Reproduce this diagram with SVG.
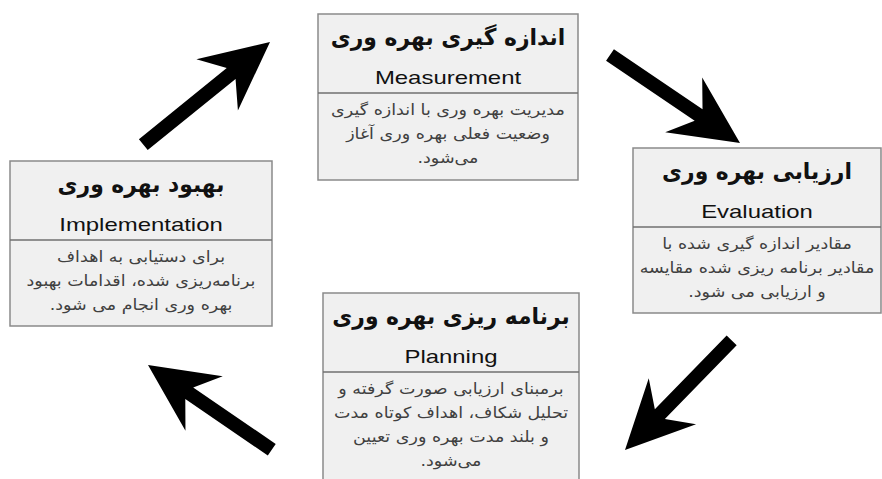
<svg xmlns="http://www.w3.org/2000/svg" width="882" height="479" viewBox="0 0 882 479">
<style>
.box{fill:#f0f0f0;stroke:#8a8a8a;stroke-width:1.5}
.div{stroke:#707070;stroke-width:1.3}
.ti{font-family:"DejaVu Sans",sans-serif;font-weight:bold;font-size:23px;fill:#111;text-anchor:middle}
.en{font-family:"Liberation Sans",Arial,sans-serif;font-size:18px;fill:#111;text-anchor:middle}
.bd{font-family:"DejaVu Sans",sans-serif;font-size:15.5px;fill:#404040;text-anchor:middle}
.arr{fill:#000}
</style>
<rect width="882" height="479" fill="#fff"/>
<g id="connectors">
<path class="arr" transform="translate(270,42) rotate(-39)" d="M0,0 L-68,-33 L-50,-7 L-163,-7 L-163,7 L-50,7 L-68,33 Z"/>
<path class="arr" transform="translate(740,143) rotate(34.1)" d="M0,0 L-68,-33 L-50,-7 L-157,-7 L-157,7 L-50,7 L-68,33 Z"/>
<path class="arr" transform="translate(625,450) rotate(134.2)" d="M0,0 L-68,-33 L-50,-7 L-153,-7 L-153,7 L-50,7 L-68,33 Z"/>
<path class="arr" transform="translate(148,365) rotate(214.4)" d="M0,0 L-68,-33 L-50,-7 L-150,-7 L-150,7 L-50,7 L-68,33 Z"/>
</g>
<g id="measurement">
<rect class="box" x="318" y="14" width="260" height="166"/>
<line class="div" x1="318" y1="93" x2="578" y2="93"/>
<text class="ti" direction="rtl" transform="translate(448,45) scale(0.95,1)">اندازه گیری بهره وری</text>
<text class="en" transform="translate(448,84) scale(1.33,1)">Measurement</text>
<g transform="translate(448,0) scale(1.13,1)">
<text class="bd" direction="rtl" x="0" y="115">مدیریت بهره وری با اندازه گیری</text>
<text class="bd" direction="rtl" x="0" y="139">وضعیت فعلی بهره وری آغاز</text>
<text class="bd" direction="rtl" x="0" y="163">می‌شود.</text>
</g>
</g>
<g id="evaluation">
<rect class="box" x="633" y="148" width="248" height="165"/>
<line class="div" x1="633" y1="227" x2="881" y2="227"/>
<text class="ti" direction="rtl" transform="translate(757,179) scale(0.95,1)">ارزیابی بهره وری</text>
<text class="en" transform="translate(757,218) scale(1.33,1)">Evaluation</text>
<g transform="translate(757,0) scale(1.13,1)">
<text class="bd" direction="rtl" x="0" y="249">مقادیر اندازه گیری شده با</text>
<text class="bd" direction="rtl" x="0" y="273">مقادیر برنامه ریزی شده مقایسه</text>
<text class="bd" direction="rtl" x="0" y="297">و ارزیابی می شود.</text>
</g>
</g>
<g id="implementation">
<rect class="box" x="10" y="161" width="262" height="165"/>
<line class="div" x1="10" y1="240" x2="272" y2="240"/>
<text class="ti" direction="rtl" transform="translate(141,192) scale(0.95,1)">بهبود بهره وری</text>
<text class="en" transform="translate(141,231) scale(1.33,1)">Implementation</text>
<g transform="translate(141,0) scale(1.13,1)">
<text class="bd" direction="rtl" x="0" y="262">برای دستیابی به اهداف</text>
<text class="bd" direction="rtl" x="0" y="286">برنامه‌ریزی شده، اقدامات بهبود</text>
<text class="bd" direction="rtl" x="0" y="310">بهره وری انجام می شود.</text>
</g>
</g>
<g id="planning">
<rect class="box" x="323" y="293" width="256" height="200"/>
<line class="div" x1="323" y1="372" x2="579" y2="372"/>
<text class="ti" direction="rtl" transform="translate(451,324) scale(0.95,1)">برنامه ریزی بهره وری</text>
<text class="en" transform="translate(451,363) scale(1.33,1)">Planning</text>
<g transform="translate(451,0) scale(1.13,1)">
<text class="bd" direction="rtl" x="0" y="394">برمبنای ارزیابی صورت گرفته و</text>
<text class="bd" direction="rtl" x="0" y="418">تحلیل شکاف، اهداف کوتاه مدت</text>
<text class="bd" direction="rtl" x="0" y="442">و بلند مدت بهره وری تعیین</text>
<text class="bd" direction="rtl" x="0" y="466">می‌شود.</text>
</g>
</g>
</svg>
